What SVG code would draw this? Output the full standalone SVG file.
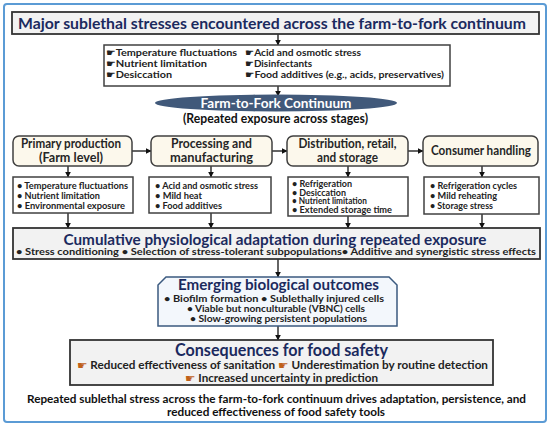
<svg xmlns="http://www.w3.org/2000/svg" width="550" height="426" viewBox="0 0 550 426">
<defs>
<marker id="ah" viewBox="0 0 10 10" refX="9" refY="5" markerWidth="6" markerHeight="6" markerUnits="userSpaceOnUse" orient="auto"><path d="M0,0 L10,5 L0,10 Z" fill="#111"/></marker>
</defs>
<style>
text{font-family:Lato,"Open Sans","Liberation Sans",sans-serif;font-weight:bold;}
.nv{fill:#1B2A5E;}
.dk{fill:#222;}
.hand{font-family:"DejaVu Sans",sans-serif;font-weight:normal;}
.box{fill:#fff;stroke:#404040;stroke-width:1.5;}
.gbox{fill:#F2F2F2;stroke:#333;stroke-width:1.8;}
.stage{fill:#FCF8EC;stroke:#404040;stroke-width:1.5;}
.con line{stroke:#111;stroke-width:1.3;marker-end:url(#ah);}
.b8{font-size:8.5px;fill:#222;}
.s10{font-size:10px;fill:#222;}
.st{font-size:12.5px;fill:#262626;text-anchor:middle;}
</style>
<rect x="4" y="4" width="542" height="418" rx="3" fill="#fff" stroke="#5B9BD5" stroke-width="2"/>

<g id="connectors" class="con">
<line x1="278" y1="34" x2="278" y2="45"/>
<line x1="278" y1="86" x2="278" y2="96"/>
<line x1="132" y1="151" x2="151" y2="151"/>
<line x1="272" y1="151" x2="287" y2="151"/>
<line x1="408" y1="151" x2="423" y2="151"/>
<line x1="68" y1="166" x2="68" y2="177"/>
<line x1="211" y1="166" x2="211" y2="177"/>
<line x1="348" y1="166" x2="348" y2="177"/>
<line x1="482" y1="166" x2="482" y2="177"/>
<line x1="68" y1="213" x2="68" y2="228"/>
<line x1="211" y1="213" x2="211" y2="228"/>
<line x1="348" y1="216" x2="348" y2="228"/>
<line x1="482" y1="214" x2="482" y2="228"/>
<line x1="278" y1="259" x2="278" y2="277"/>
<line x1="278" y1="326" x2="278" y2="340"/>
</g>

<g id="title">
<rect x="12" y="12" width="527" height="22" class="gbox"/>
<text x="272" y="28.5" class="nv" font-size="16" text-anchor="middle" textLength="508" lengthAdjust="spacingAndGlyphs">Major sublethal stresses encountered across the farm-to-fork continuum</text>
</g>

<g id="stresses">
<rect x="104" y="45" width="346" height="41" class="box"/>
<text x="106" y="56" class="s10" textLength="131" lengthAdjust="spacingAndGlyphs"><tspan class="hand">☛</tspan>Temperature fluctuations</text>
<text x="106" y="67" class="s10" textLength="101" lengthAdjust="spacingAndGlyphs"><tspan class="hand">☛</tspan>Nutrient limitation</text>
<text x="106" y="78" class="s10" textLength="66" lengthAdjust="spacingAndGlyphs"><tspan class="hand">☛</tspan>Desiccation</text>
<text x="245" y="56" class="s10" textLength="116" lengthAdjust="spacingAndGlyphs"><tspan class="hand">☛</tspan>Acid and osmotic stress</text>
<text x="245" y="67" class="s10" textLength="67" lengthAdjust="spacingAndGlyphs"><tspan class="hand">☛</tspan>Disinfectants</text>
<text x="245" y="78" class="s10" textLength="199" lengthAdjust="spacingAndGlyphs"><tspan class="hand">☛</tspan>Food additives (e.g., acids, preservatives)</text>
</g>

<g id="continuum">
<ellipse cx="276" cy="103" rx="121" ry="8.5" fill="#41597A"/>
<text x="276" y="108" font-size="13" fill="#fff" text-anchor="middle" textLength="151" lengthAdjust="spacingAndGlyphs">Farm-to-Fork Continuum</text>
<text x="275.5" y="122.5" font-size="12.5" fill="#111" text-anchor="middle" textLength="185" lengthAdjust="spacingAndGlyphs">(Repeated exposure across stages)</text>
</g>

<g id="stage1">
<rect x="13" y="136" width="119" height="30" rx="6" class="stage"/>
<text x="71" y="147.5" class="st" textLength="100" lengthAdjust="spacingAndGlyphs">Primary production</text>
<text x="71" y="161.5" class="st" textLength="64" lengthAdjust="spacingAndGlyphs">(Farm level)</text>
</g>
<g id="stage2">
<rect x="151" y="136" width="121" height="30" rx="6" class="stage"/>
<text x="211.5" y="147.5" class="st" textLength="81" lengthAdjust="spacingAndGlyphs">Processing and</text>
<text x="211.5" y="161.5" class="st" textLength="83" lengthAdjust="spacingAndGlyphs">manufacturing</text>
</g>
<g id="stage3">
<rect x="287" y="136" width="121" height="30" rx="6" class="stage"/>
<text x="347.5" y="147.5" class="st" textLength="98" lengthAdjust="spacingAndGlyphs">Distribution, retail,</text>
<text x="347.5" y="161.5" class="st" textLength="61" lengthAdjust="spacingAndGlyphs">and storage</text>
</g>
<g id="stage4">
<rect x="423" y="136" width="115" height="30" rx="6" class="stage"/>
<text x="481" y="155" class="st" textLength="100" lengthAdjust="spacingAndGlyphs">Consumer handling</text>
</g>

<g id="bullets1">
<rect x="13" y="177" width="120" height="36" class="box"/>
<text x="17" y="188.5" class="b8" textLength="111" lengthAdjust="spacingAndGlyphs">• Temperature fluctuations</text>
<text x="17" y="198.5" class="b8" textLength="83" lengthAdjust="spacingAndGlyphs">• Nutrient limitation</text>
<text x="17" y="208.5" class="b8" textLength="108" lengthAdjust="spacingAndGlyphs">• Environmental exposure</text>
</g>
<g id="bullets2">
<rect x="149" y="177" width="122" height="36" class="box"/>
<text x="155" y="188.5" class="b8" textLength="103" lengthAdjust="spacingAndGlyphs">• Acid and osmotic stress</text>
<text x="155" y="198.5" class="b8" textLength="47" lengthAdjust="spacingAndGlyphs">• Mild heat</text>
<text x="155" y="208.5" class="b8" textLength="67" lengthAdjust="spacingAndGlyphs">• Food additives</text>
</g>
<g id="bullets3">
<rect x="288" y="177" width="120" height="39" class="box"/>
<text x="292" y="187" class="b8" textLength="60" lengthAdjust="spacingAndGlyphs">• Refrigeration</text>
<text x="292" y="195.5" class="b8" textLength="54" lengthAdjust="spacingAndGlyphs">• Desiccation</text>
<text x="292" y="204" class="b8" textLength="75" lengthAdjust="spacingAndGlyphs">• Nutrient limitation</text>
<text x="292" y="212.5" class="b8" textLength="100" lengthAdjust="spacingAndGlyphs">• Extended storage time</text>
</g>
<g id="bullets4">
<rect x="424" y="177" width="115" height="37" class="box"/>
<text x="430" y="188.5" class="b8" textLength="87" lengthAdjust="spacingAndGlyphs">• Refrigeration cycles</text>
<text x="430" y="198.5" class="b8" textLength="67" lengthAdjust="spacingAndGlyphs">• Mild reheating</text>
<text x="430" y="208.5" class="b8" textLength="63" lengthAdjust="spacingAndGlyphs">• Storage stress</text>
</g>

<g id="cumulative">
<rect x="13" y="228" width="527" height="31" class="gbox"/>
<text x="275" y="244.5" class="nv" font-size="16" text-anchor="middle" textLength="423" lengthAdjust="spacingAndGlyphs">Cumulative physiological adaptation during repeated exposure</text>
<text x="16" y="255" font-size="9.5" fill="#222" textLength="520" lengthAdjust="spacingAndGlyphs">• Stress conditioning • Selection of stress-tolerant subpopulations• Additive and synergistic stress effects</text>
</g>

<g id="emerging">
<path d="M158,326 L158,285 L166,277 L389,277 L397,285 L397,326 Z" fill="#F3F7FC" stroke="#3B5A7F" stroke-width="1.5"/>
<text x="278.5" y="289.5" class="nv" font-size="15" text-anchor="middle" textLength="201" lengthAdjust="spacingAndGlyphs">Emerging biological outcomes</text>
<text x="274" y="301.5" font-size="9" fill="#222" text-anchor="middle" textLength="220" lengthAdjust="spacingAndGlyphs">• Biofilm formation • Sublethally injured cells</text>
<text x="276" y="311.5" font-size="9" fill="#222" text-anchor="middle" textLength="178" lengthAdjust="spacingAndGlyphs">• Viable but nonculturable (VBNC) cells</text>
<text x="278.5" y="321.5" font-size="9" fill="#222" text-anchor="middle" textLength="177" lengthAdjust="spacingAndGlyphs">• Slow-growing persistent populations</text>
</g>

<g id="consequences">
<rect x="70" y="340" width="423" height="45" class="gbox"/>
<text x="281.5" y="355.5" class="nv" font-size="16.5" text-anchor="middle" textLength="213" lengthAdjust="spacingAndGlyphs">Consequences for food safety</text>
<text x="282.5" y="368.5" font-size="11" fill="#222" text-anchor="middle" textLength="411" lengthAdjust="spacingAndGlyphs"><tspan class="hand" fill="#C0601A">☛</tspan> Reduced effectiveness of sanitation <tspan class="hand" fill="#C0601A">☛</tspan> Underestimation by routine detection</text>
<text x="281.5" y="381.5" font-size="11" fill="#222" text-anchor="middle" textLength="193" lengthAdjust="spacingAndGlyphs"><tspan class="hand" fill="#C0601A">☛</tspan> Increased uncertainty in prediction</text>
</g>

<g id="footer">
<text x="276.5" y="403" font-size="11.5" fill="#111" text-anchor="middle" textLength="499" lengthAdjust="spacingAndGlyphs">Repeated sublethal stress across the farm-to-fork continuum drives adaptation, persistence, and</text>
<text x="276" y="416" font-size="11.5" fill="#111" text-anchor="middle" textLength="218" lengthAdjust="spacingAndGlyphs">reduced effectiveness of food safety tools</text>
</g>
</svg>
